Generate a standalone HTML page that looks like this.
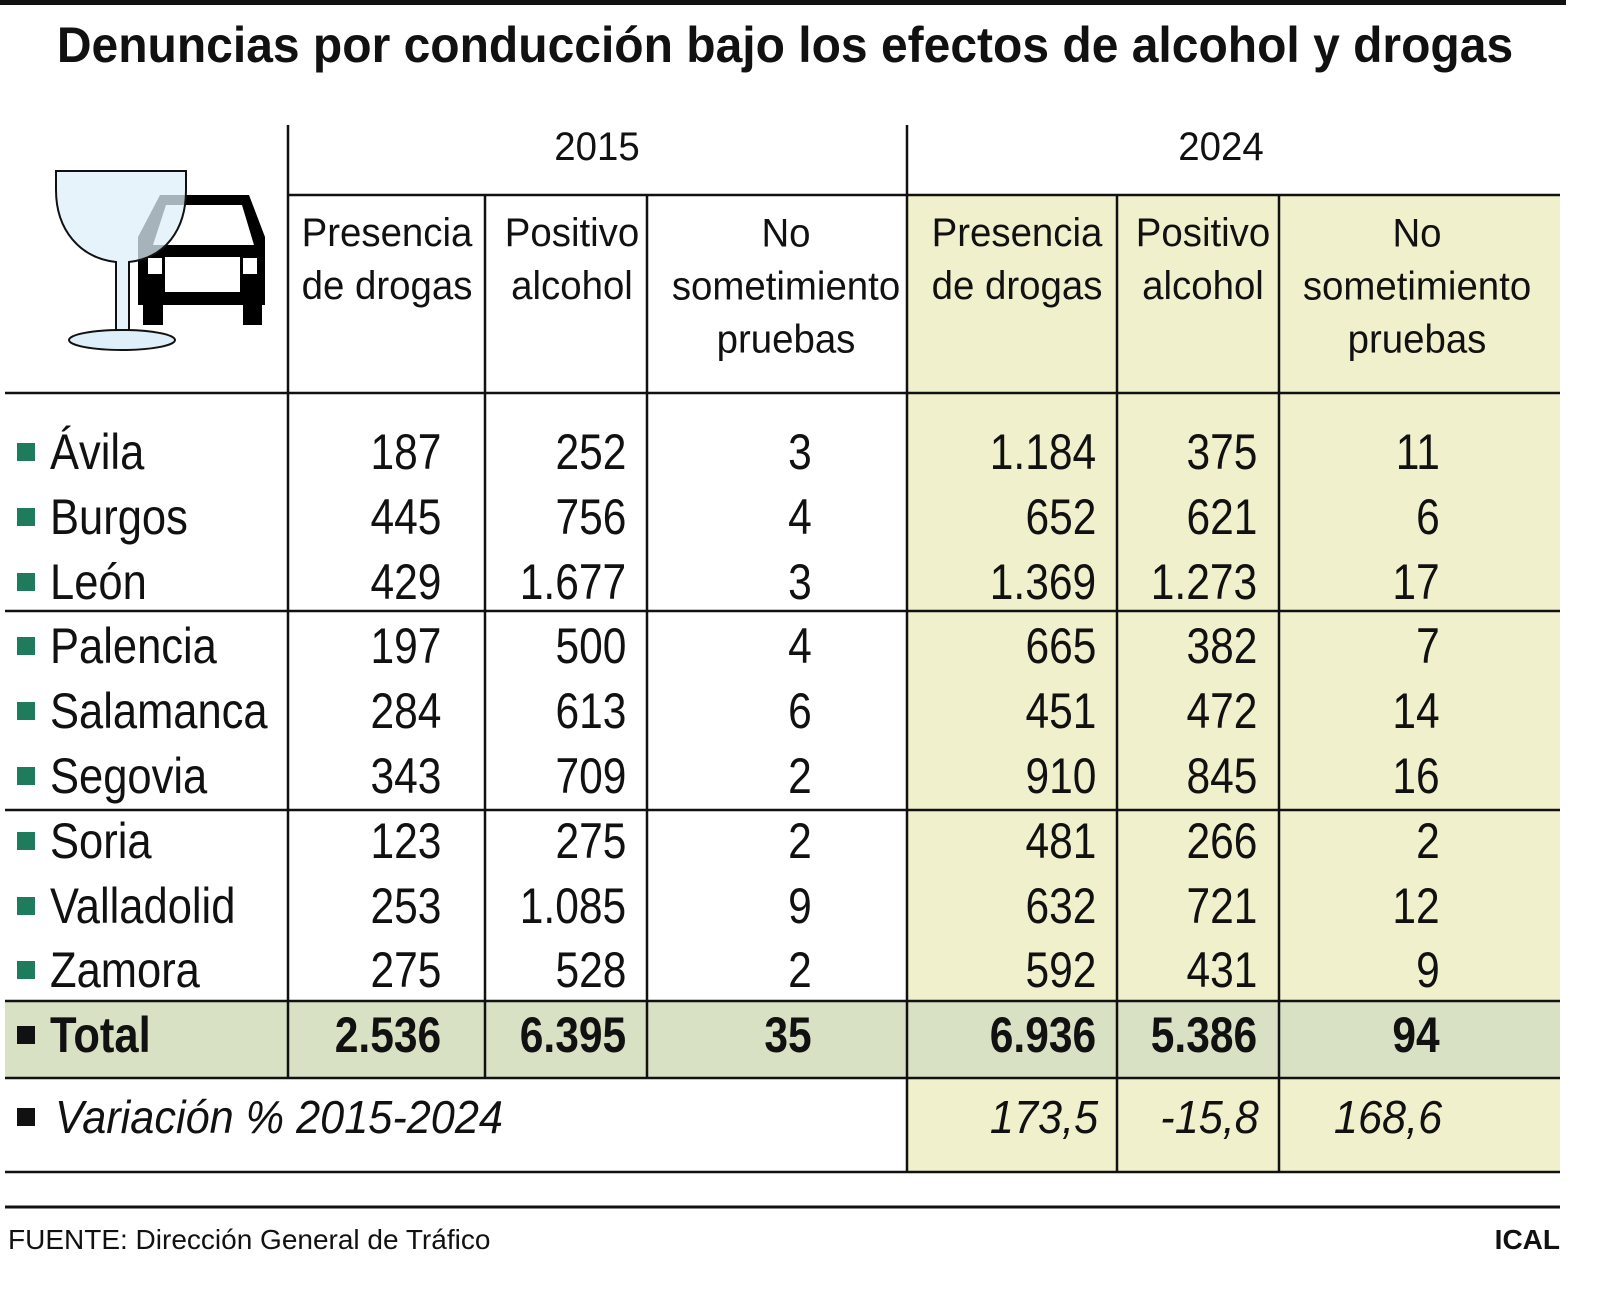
<!DOCTYPE html>
<html><head><meta charset="utf-8"><style>
body{margin:0;width:1600px;height:1289px;background:#fff;position:relative;overflow:hidden;font-family:"Liberation Sans",sans-serif;color:#111}
.t{position:absolute;white-space:nowrap;line-height:1}
.r{transform:translateY(-50%) scaleX(.85);transform-origin:right center}
.c{transform:translate(-50%,-50%) scaleX(.96);transform-origin:center center}
.l{transform:translateY(-50%) scaleX(.87);transform-origin:left center}
.n{font-size:50px}
.b{font-weight:bold}
.i{font-style:italic}
.h{font-size:40px;text-align:center;line-height:53px}
.box{position:absolute}
.sq{position:absolute;width:18px;height:18px;background:#1e7b5c}
</style></head><body>
<div class="box" style="left:0;top:0;width:1566px;height:5px;background:#111"></div>
<div class="t b" style="left:785px;top:45px;font-size:50px;transform:translate(-50%,-50%) scaleX(.96)">Denuncias por conducción bajo los efectos de alcohol y drogas</div>

<div class="box" style="left:907px;top:195px;width:653px;height:977px;background:#f1f0cd"></div>
<div class="box" style="left:5px;top:1001px;width:1555px;height:77px;background:#d9e1c5"></div>

<svg class="box" style="left:0;top:0" width="1600" height="1289">
<g stroke="#111" stroke-width="2.5" fill="none">
<line x1="288" y1="125" x2="288" y2="1078"/>
<line x1="907" y1="125" x2="907" y2="1172"/>
<line x1="485" y1="195" x2="485" y2="1078"/>
<line x1="647" y1="195" x2="647" y2="1078"/>
<line x1="1117" y1="195" x2="1117" y2="1172"/>
<line x1="1279" y1="195" x2="1279" y2="1172"/>
<line x1="288" y1="195" x2="1560" y2="195"/>
<line x1="5" y1="393" x2="1560" y2="393"/>
<line x1="5" y1="611" x2="1560" y2="611"/>
<line x1="5" y1="810" x2="1560" y2="810"/>
<line x1="5" y1="1001" x2="1560" y2="1001"/>
<line x1="5" y1="1078" x2="1560" y2="1078"/>
<line x1="5" y1="1172" x2="1560" y2="1172"/>
</g>
<line x1="5" y1="1207" x2="1560" y2="1207" stroke="#111" stroke-width="3"/>
<path d="M160 195 H249 L265 237 V305 H138 V237 Z M166 205 L153 245 H254 L242 205 Z" fill="#000" fill-rule="evenodd"/>
<rect x="143" y="300" width="20" height="25" fill="#000"/>
<rect x="243" y="300" width="19" height="25" fill="#000"/>
<rect x="148" y="258" width="14" height="16" fill="#fff"/>
<rect x="243" y="258" width="14" height="16" fill="#fff"/>
<rect x="165" y="257" width="75" height="35" fill="#fff"/>
<path d="M56 171 H186 V190 C186 230 165 258 129 262 V330 H116 V262 C80 258 56 230 56 190 Z" fill="#dfeff9" fill-opacity=".75" stroke="#111" stroke-width="2"/>
<ellipse cx="122" cy="340" rx="53" ry="10" fill="#dfeff9" stroke="#111" stroke-width="2"/>
</svg>

<div class="t c" style="left:597px;top:147px;font-size:40px">2015</div>
<div class="t c" style="left:1221px;top:147px;font-size:40px">2024</div>

<div class="t c h" style="left:387px;top:260px">Presencia<br>de drogas</div>
<div class="t c h" style="left:572px;top:260px">Positivo<br>alcohol</div>
<div class="t c h" style="left:786px;top:287px">No<br>sometimiento<br>pruebas</div>
<div class="t c h" style="left:1017px;top:260px">Presencia<br>de drogas</div>
<div class="t c h" style="left:1203px;top:260px">Positivo<br>alcohol</div>
<div class="t c h" style="left:1417px;top:287px">No<br>sometimiento<br>pruebas</div>

<div id="rows"></div>
<script>
const d=[["Ávila",187,252,3,"1.184",375,11],["Burgos",445,756,4,652,621,6],["León",429,"1.677",3,"1.369","1.273",17],["Palencia",197,500,4,665,382,7],["Salamanca",284,613,6,451,472,14],["Segovia",343,709,2,910,845,16],["Soria",123,275,2,481,266,2],["Valladolid",253,"1.085",9,632,721,12],["Zamora",275,528,2,592,431,9]];
const R=[441,626,812,1096,1257,1440];
let h="";
function row(y,v,cls,sqc){
 h+=`<div class="sq" style="left:17px;top:${y-9}px;background:${sqc}"></div>`;
 h+=`<div class="t l n ${cls}" style="left:50px;top:${y}px">${v[0]}</div>`;
 for(let i=1;i<7;i++)h+=`<div class="t r n ${cls}" style="right:${1600-R[i-1]}px;top:${y}px">${v[i]}</div>`;
}
d.forEach((v,i)=>row(452+i*64.8,v,"","#1e7b5c"));
row(1035,["Total","2.536","6.395",35,"6.936","5.386",94],"b","#111");
h+=`<div class="sq" style="left:17px;top:1108px;background:#111"></div>`;
h+=`<div class="t n i" style="left:55px;top:1117px;font-size:46px;transform:translateY(-50%) scaleX(.94);transform-origin:left center">Variación % 2015-2024</div>`;
[["173,5",1098],["-15,8",1259],["168,6",1442]].forEach(a=>h+=`<div class="t n i" style="right:${1600-a[1]}px;top:1117px;font-size:46px;transform:translateY(-50%) scaleX(.94);transform-origin:right center">${a[0]}</div>`);
document.getElementById("rows").innerHTML=h;
</script>
<div class="t" style="left:8px;top:1226px;font-size:28px">FUENTE: Dirección General de Tráfico</div>
<div class="t b" style="right:40px;top:1226px;font-size:28px">ICAL</div>
</body></html>
